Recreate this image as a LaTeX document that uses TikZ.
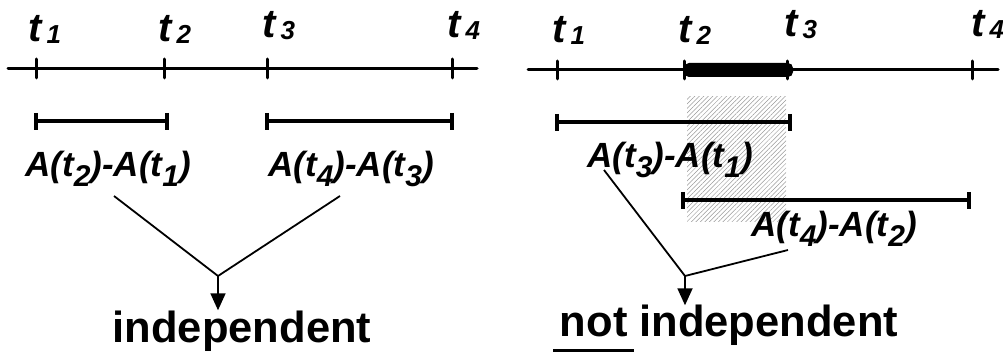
\documentclass[tikz,border=0pt]{standalone}
\usepackage{fontspec}
\setmainfont{Liberation Sans}
\usetikzlibrary{arrows.meta,patterns.meta}
\newcommand{\dsub}[1]{\raisebox{-10pt}{\fontsize{30}{30}\selectfont #1}}
\newcommand{\tsub}[1]{\raisebox{-2pt}{\fontsize{26}{26}\selectfont\,#1}}
\begin{document}
\begin{tikzpicture}[x=1pt,y=-1pt,
  axis/.style={line width=3pt, line cap=round},
  tickmark/.style={line width=3pt, line cap=round},
  bar/.style={line width=4pt},
  conn/.style={line width=1.8pt},
  tlab/.style={font=\fontsize{40}{40}\selectfont\bfseries\itshape, anchor=base, inner sep=0pt},
  dlab/.style={font=\fontsize{35}{35}\selectfont\bfseries\itshape, anchor=base, inner sep=0pt},
  big/.style={font=\fontsize{43.5}{43.5}\selectfont\bfseries, anchor=base, inner sep=0pt},
  arr/.style={line width=1.8pt, -{Triangle[length=17pt,width=15pt]}}]
\useasboundingbox (0,0) rectangle (1003,352);

% ---------- left panel ----------
\draw[axis] (8,69) -- (477,69);
\foreach \x in {36,164,267,452} \draw[tickmark] (\x,59) -- (\x,78);
\node[tlab] (lt1) at (45,42) {t\tsub{1}};
\node[tlab] (lt2) at (175,42) {t\tsub{2}};
\node[tlab] (lt3) at (279,38) {t\tsub{3}};
\node[tlab] (lt4) at (464,38) {t\tsub{4}};

\draw[bar] (36,121) -- (167,121);
\draw[bar] (36,113) -- (36,130);
\draw[bar] (167,113) -- (167,130);
\draw[bar] (267,121) -- (452,121);
\draw[bar] (267,113) -- (267,130);
\draw[bar] (452,113) -- (452,130);

\node[dlab] (la) at (108,177) {A(t\dsub{2})-A(t\dsub{1})};
\node[dlab] (lb) at (351,177) {A(t\dsub{4})-A(t\dsub{3})};

\coordinate (lafoot) at (114,196);
\coordinate (lbfoot) at (340,196);
\coordinate (lj) at (218,276);
\node[big] (lind) at (242,342) {independent};
\draw[conn] (lafoot) -- (lj) -- (lbfoot);
\draw[arr] (lj) -- (lind.north -| lj);

% ---------- right panel ----------
\fill[pattern={Lines[angle=45,distance=3.2pt,line width=0.5pt]}, pattern color=gray!80] (687,97) rectangle (786,222);

\draw[axis] (528,70) -- (998,70);
\foreach \x in {557,684,787,972} \draw[tickmark] (\x,61) -- (\x,79);
\fill[rounded corners=5pt] (684,63) rectangle (793,77);
\node[tlab] (rt1) at (569,43) {t\tsub{1}};
\node[tlab] (rt2) at (695,43) {t\tsub{2}};
\node[tlab] (rt3) at (801,37) {t\tsub{3}};
\node[tlab] (rt4) at (988,37) {t\tsub{4}};

\draw[bar] (557,122) -- (790,122);
\draw[bar] (557,114) -- (557,131);
\draw[bar] (790,114) -- (790,131);
\draw[bar] (683,200) -- (969,200);
\draw[bar] (683,192) -- (683,209);
\draw[bar] (969,192) -- (969,209);

\node[dlab] (ra) at (670,168) {A(t\dsub{3})-A(t\dsub{1})};
\node[dlab] (rb) at (834,237) {A(t\dsub{4})-A(t\dsub{2})};

\coordinate (rafoot) at (604,170);
\coordinate (rbfoot) at (788,250);
\coordinate (rj) at (685,276);
\node[big] (rind) at (729,337) {not independent};
\draw[conn] (rafoot) -- (rj) -- (rbfoot);
\draw[arr] (rj) -- (rind.north -| rj);
\coordinate (ul1) at (553,350);
\coordinate (ul2) at (634,350);
\draw[line width=3pt] (ul1) -- (ul2);
\end{tikzpicture}
\end{document}
